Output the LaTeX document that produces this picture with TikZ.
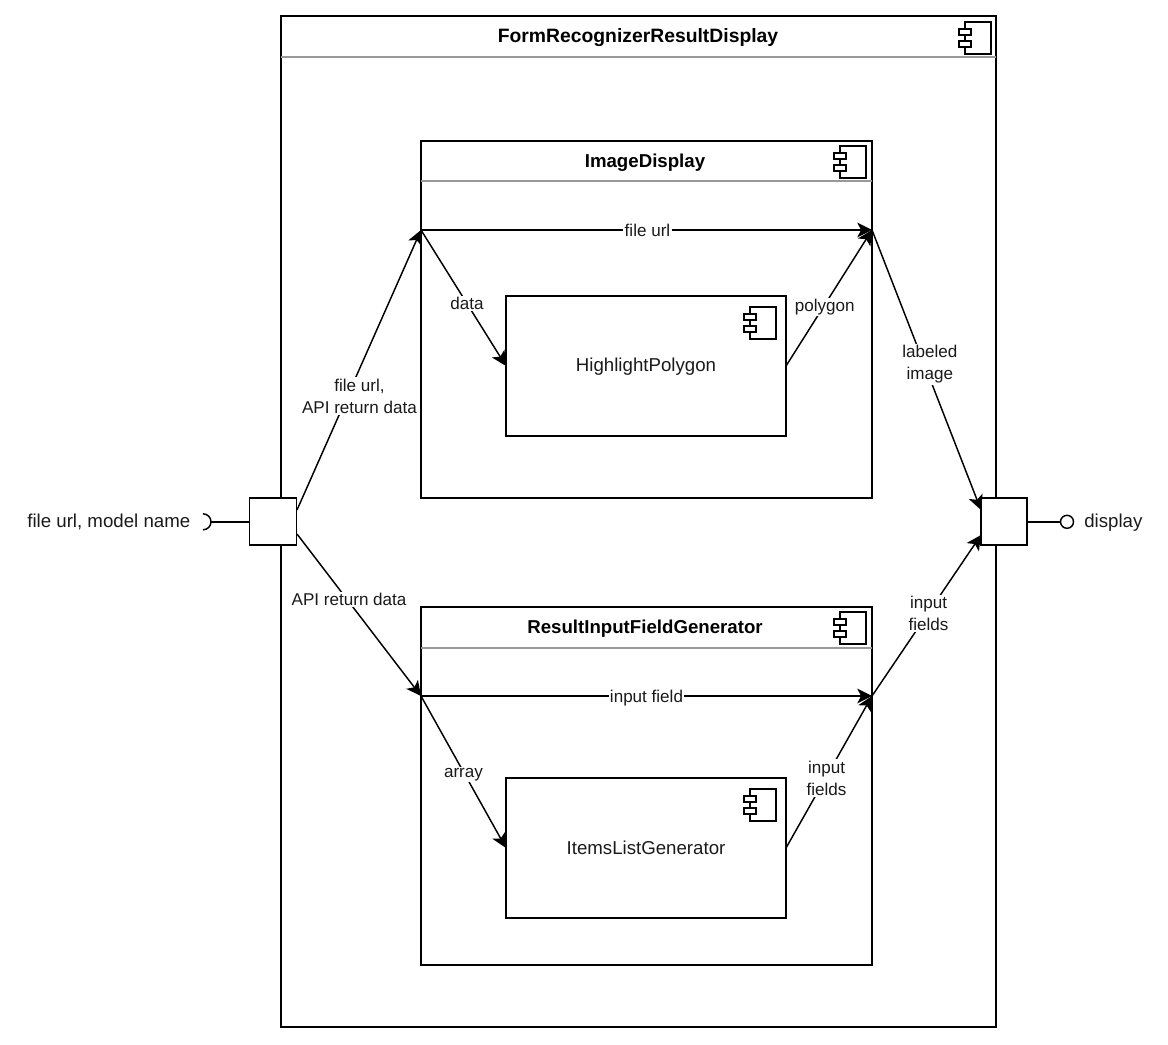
\documentclass[tikz,border=0pt]{standalone}
\usepackage{fontspec}
\setmainfont{Liberation Sans}
\usetikzlibrary{arrows.meta,calc}
\definecolor{txt}{HTML}{1A1A1A}
\tikzset{
  x=0.75pt,y=-0.75pt,
  boxnode/.style={draw=black,fill=white,line width=1.1pt,anchor=north west,inner sep=0pt,outer sep=0pt},
  portbox/.style={boxnode,minimum height=35.25pt},
  headrule/.style={draw=black!40,line width=1.1pt},
  flow/.style={draw=black,line width=1.1pt,-{Stealth[length=11pt,width=11pt,inset=2.8pt]}},
  plainline/.style={draw=black,line width=1.1pt},
  edgelabel/.style={fill=white,inner sep=1pt,text=txt,font=\fontsize{12.8}{16.5}\selectfont,align=center},
  freelabel/.style={text=txt,inner sep=0pt,font=\fontsize{14}{16.5}\selectfont,align=center},
  title/.style={text=black,inner sep=0pt,font=\fontsize{14}{16}\selectfont\bfseries},
  compicon/.pic={
    \draw[line width=1pt,fill=white] (0,0) rectangle (26,32);
    \draw[line width=1pt,fill=white] (-6,7) rectangle (6,13);
    \draw[line width=1pt,fill=white] (-6,19) rectangle (6,25);
  }
}
\begin{document}
\begin{tikzpicture}
\useasboundingbox (0,0) rectangle (1168,1045);
% outer component
\node[boxnode,minimum width=536.25pt,minimum height=758.25pt] (outer) at (281,16) {};
\coordinate (outerRL) at (281,57);
\coordinate (outerRR) at (996,57);
\draw[headrule] (outerRL) -- (outerRR);
\node[title,font=\fontsize{14.5}{16}\selectfont\bfseries] (outerT) at (638,37.5) {FormRecognizerResultDisplay};
\pic at (965,22) {compicon};
% image display
\node[boxnode,minimum width=338.25pt,minimum height=267.75pt] (img) at (421,141) {};
\coordinate (imgRL) at (421,181);
\coordinate (imgRR) at (872,181);
\draw[headrule] (imgRL) -- (imgRR);
\node[title] (imgT) at (645,162.5) {ImageDisplay};
\pic at (840,146) {compicon};
\node[boxnode,minimum width=210pt,minimum height=105pt] (poly) at (506,296) {};
\node[freelabel] (polyT) at (646,367) {HighlightPolygon};
\pic at (750,307) {compicon};
% result generator
\node[boxnode,minimum width=338.25pt,minimum height=268.5pt] (res) at (421,607) {};
\coordinate (resRL) at (421,648);
\coordinate (resRR) at (872,648);
\draw[headrule] (resRL) -- (resRR);
\node[title] (resT) at (645,628.5) {ResultInputFieldGenerator};
\pic at (840,612) {compicon};
\node[boxnode,minimum width=210pt,minimum height=105pt] (items) at (506,778) {};
\node[freelabel] (itemsT) at (646,848) {ItemsListGenerator};
\pic at (750,789) {compicon};
% ports
\node[portbox,minimum width=35.25pt] (pl) at (249.5,498) {};
\node[portbox,minimum width=34.5pt] (pr) at (981,498) {};
% junction coordinates
\coordinate (plA) at (297,510);
\coordinate (plB) at (297,534);
\coordinate (imgIn) at (421,230);
\coordinate (imgOut) at (872,230);
\coordinate (polyIn) at (506,366);
\coordinate (polyOut) at (786,366);
\coordinate (resIn) at (421,696);
\coordinate (resOut) at (872,696);
\coordinate (itemsIn) at (506,848);
\coordinate (itemsOut) at (786,848);
\coordinate (prA) at (981,510);
\coordinate (prB) at (981,535);
% connectors
\draw[flow] (plA) -- (imgIn) node[edgelabel,pos=0.407,xshift=9pt] (l1) {file url,\\API return data};
\draw[flow] (plB) -- (resIn) node[edgelabel,pos=0.42,yshift=2pt] (l2) {API return data};
\draw[flow] (imgIn) -- (imgOut) node[edgelabel,midway,xshift=0.75pt,yshift=-0.25pt] (l3) {file url};
\draw[flow] (imgIn) -- (polyIn) node[edgelabel,pos=0.54] (l4) {data};
\draw[flow] (polyOut) -- (imgOut) node[edgelabel,pos=0.45,yshift=-1.5pt] (l5) {polygon};
\draw[flow] (imgOut) -- (prA) node[edgelabel,pos=0.47,xshift=5pt,yshift=-2pt] (l6) {labeled\\image};
\draw[flow] (resIn) -- (resOut) node[edgelabel,midway,yshift=-1.5pt] (l7) {input field};
\draw[flow] (resIn) -- (itemsIn) node[edgelabel,pos=0.5,yshift=-2pt] (l8) {array};
\draw[flow] (itemsOut) -- (resOut) node[edgelabel,pos=0.46,xshift=0.75pt] (l9) {input\\fields};
\draw[flow] (resOut) -- (prB) node[edgelabel,pos=0.51,xshift=0.75pt] (l10) {input\\fields};
% interfaces
\coordinate (reqEnd) at (211,521.8);
\draw[plainline] (pl.west |- reqEnd) -- (reqEnd);
\draw[plainline] (203,513.8) arc[start angle=90,end angle=-90,radius=6pt];
\node[draw=black,fill=white,line width=1.1pt,circle,minimum size=9.75pt,inner sep=0pt] (prov) at (1067,521.8) {};
\draw[plainline] (pr.east |- prov) -- (prov);
\node[freelabel,anchor=east] (reqT) at (190.5,522) {file url, model name};
\node[freelabel,anchor=west] (provT) at (1084,522.5) {display};
\end{tikzpicture}
\end{document}
